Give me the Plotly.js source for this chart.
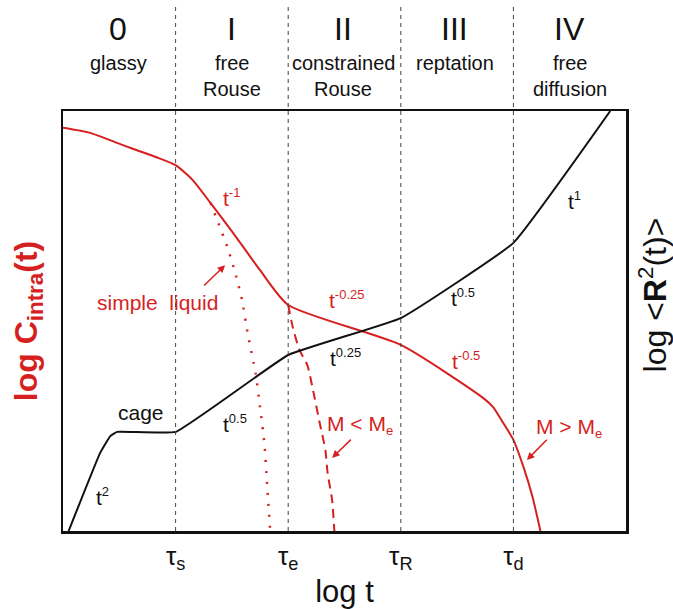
<!DOCTYPE html>
<html>
<head>
<meta charset="utf-8">
<script src="https://cdn.plot.ly/plotly-3.0.1.min.js"></script>
<style>html,body{margin:0;padding:0;background:#fff;}#chart{width:673px;height:609px;}</style>
</head>
<body>
<div id="chart"></div>
<script>
// ---- data (x in log t units: tau_s=1, tau_e=2, tau_R=3, tau_d=4; y in relative log units 0..100)
const boundaryX = [1, 2, 3, 4];
const boundaryText = ['τ<sub>s</sub>', 'τ<sub>e</sub>', 'τ<sub>R</sub>', 'τ<sub>d</sub>'];

const stageX = [0.49, 1.5, 2.49, 3.48, 4.5];
const stageNumerals = ['0', 'I', 'II', 'III', 'IV'];
const stageLine1 = ['glassy', 'free', 'constrained', 'reptation', 'free'];
const stageLine2 = ['', 'Rouse', 'Rouse', '', 'diffusion'];

// mean-square displacement <R^2(t)> (black, right axis)
const msdX = [0.05, 0.33, 0.42, 0.48, 1.0, 2.0, 3.0, 4.0, 4.86];
const msdY = [0, 18.6, 22.6, 23.6, 23.6, 41.9, 50.7, 68.6, 100];

// C_intra(t), M > Me (red solid)
const cX = [0.0, 0.24, 0.48, 0.62, 0.83, 1.0, 1.15, 1.31, 1.51, 1.75, 2.0, 3.0, 3.73, 3.82, 3.91, 4.0, 4.09, 4.17, 4.24];
const cY = [96.0, 94.8, 92.4, 91.0, 89.0, 87.1, 83.6, 78.1, 71.0, 62.1, 53.8, 44.3, 31.7, 29.5, 25.7, 21.7, 15.2, 8.1, 0];

// simple liquid (red dotted)
const liqX = [1.31, 1.37, 1.46, 1.53, 1.59, 1.64, 1.71, 1.75, 1.79, 1.81, 1.84];
const liqY = [78.1, 74.0, 67.6, 61.4, 55.0, 47.1, 37.6, 29.5, 20.5, 12.1, 0];

// M < Me (red dashed)
const unentX = [2.0, 2.04, 2.10, 2.17, 2.22, 2.28, 2.33, 2.35, 2.39, 2.41];
const unentY = [53.8, 48.6, 43.1, 39.5, 33.6, 25.7, 19.3, 13.8, 7.4, 0];

// slope labels
const slopeExp = ['-1', '-0.25', '-0.5', '2', '0.5', '0.25', '0.5', '1'];
const slopeX = [1.50, 2.52, 3.58, 0.355, 1.53, 2.51, 3.55, 4.54];
const slopeY = [79.5, 55.2, 40.7, 8.1, 25.7, 41.4, 55.7, 78.8];
const slopeRed = [true, true, true, false, false, false, false, false];

const RED = '#d61f1f';
const FONT = 'Liberation Sans, Arial, sans-serif';

const traces = [
  {x: cX, y: cY, mode: 'lines', line: {color: RED, width: 2, shape: 'spline', smoothing: 0.6}, yaxis: 'y', name: 'C_intra M>Me'},
  {x: liqX, y: liqY, mode: 'lines', line: {color: RED, width: 2.5, dash: '2px,9px', shape: 'spline', smoothing: 0.6}, yaxis: 'y', name: 'simple liquid'},
  {x: unentX, y: unentY, mode: 'lines', line: {color: RED, width: 2, dash: '9px,6px', shape: 'spline', smoothing: 0.6}, yaxis: 'y', name: 'M<Me'},
  {x: msdX, y: msdY, mode: 'lines', line: {color: '#111', width: 2, shape: 'spline', smoothing: 0.3}, yaxis: 'y2', name: 'R2'}
];

const annotations = [];
for (let i = 0; i < stageX.length; i++) {
  annotations.push({x: stageX[i], xref: 'x', y: 1.195, yref: 'paper', text: stageNumerals[i], showarrow: false,
    font: {family: FONT, size: 32, color: '#111'}, xanchor: 'center', yanchor: 'middle'});
  annotations.push({x: stageX[i], xref: 'x', y: 1.114, yref: 'paper', text: stageLine1[i], showarrow: false,
    font: {family: FONT, size: 20, color: '#111'}, xanchor: 'center', yanchor: 'middle'});
  if (stageLine2[i]) annotations.push({x: stageX[i], xref: 'x', y: 1.052, yref: 'paper', text: stageLine2[i], showarrow: false,
    font: {family: FONT, size: 20, color: '#111'}, xanchor: 'center', yanchor: 'middle'});
}
for (let i = 0; i < slopeExp.length; i++) {
  annotations.push({x: slopeX[i], y: slopeY[i], xref: 'x', yref: 'y',
    text: 't<sup><span style="font-size:13px">' + slopeExp[i] + '</span></sup>', showarrow: false,
    font: {family: FONT, size: 21, color: slopeRed[i] ? RED : '#111'}, xanchor: 'center', yanchor: 'middle'});
}
// other labels
annotations.push({x: 0.69, y: 28.1, xref: 'x', yref: 'y', text: 'cage', showarrow: false, font: {family: FONT, size: 21, color: '#111'}});
annotations.push({x: 0.835, y: 54.5, xref: 'x', yref: 'y', text: 'simple  liquid', showarrow: false, font: {family: FONT, size: 21, color: RED}});
annotations.push({x: 2.64, y: 25.2, xref: 'x', yref: 'y', text: 'M &lt; M<sub><span style="font-size:13px">e</span></sub>', showarrow: false, font: {family: FONT, size: 21, color: RED}});
annotations.push({x: 4.49, y: 24.5, xref: 'x', yref: 'y', text: 'M &gt; M<sub><span style="font-size:13px">e</span></sub>', showarrow: false, font: {family: FONT, size: 21, color: RED}});
// right axis title (log <R^2(t)>)
annotations.push({x: 1.047, xref: 'paper', y: 0.562, yref: 'paper', textangle: -90, showarrow: false,
  text: 'log &lt;<b>R</b><sup>2</sup>(t)&gt;', font: {family: FONT, size: 32, color: '#111'}, xanchor: 'center', yanchor: 'middle'});
// arrows
const arrows = [[1.44, 63.3, 1.24, 58.1], [2.39, 17.4, 2.57, 22.1], [4.12, 16.9, 4.31, 22.1]];
arrows.forEach(a => annotations.push({x: a[0], y: a[1], ax: a[2], ay: a[3], xref: 'x', yref: 'y', axref: 'x', ayref: 'y',
  text: '', showarrow: true, arrowhead: 2, arrowsize: 1, arrowwidth: 1.5, arrowcolor: RED}));

const shapes = boundaryX.map(bx => ({type: 'line', xref: 'x', yref: 'paper', x0: bx, x1: bx, y0: 0, y1: 1.252,
  line: {color: '#444', width: 1, dash: '4px,4px'}}));

const layout = {
  width: 673, height: 609,
  margin: {l: 63, r: 47, t: 111, b: 78},
  paper_bgcolor: '#fff', plot_bgcolor: '#fff',
  showlegend: false, hovermode: false,
  font: {family: FONT, color: '#111'},
  xaxis: {range: [0, 5], tickvals: boundaryX, ticktext: boundaryText, ticks: '', showgrid: false, zeroline: false,
    showline: true, mirror: true, linewidth: 2.5, linecolor: '#111', tickfont: {family: FONT, size: 26, color: '#111'},
    title: {text: 'log t', font: {family: FONT, size: 31, color: '#111'}, standoff: 12}, fixedrange: true},
  yaxis: {range: [0, 100], showticklabels: false, ticks: '', showgrid: false, zeroline: false,
    showline: true, mirror: true, linewidth: 2.5, linecolor: '#111',
    title: {text: '<b>log C<sub>intra</sub>(t)</b>', font: {family: FONT, size: 32, color: RED}, standoff: 14}},
  yaxis2: {range: [0, 100], overlaying: 'y', side: 'right', showticklabels: false, ticks: '', showgrid: false, zeroline: false,
    showline: false},
  annotations: annotations,
  shapes: shapes
};

Plotly.newPlot('chart', traces, layout, {displayModeBar: false, staticPlot: true});
</script>
</body>
</html>
